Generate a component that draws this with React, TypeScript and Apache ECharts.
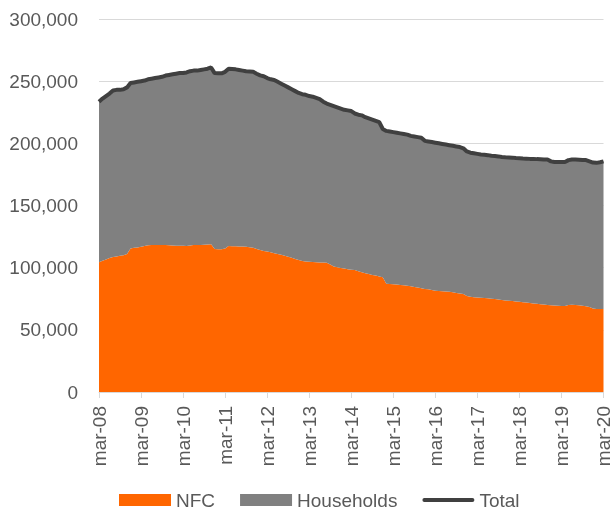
import React, { useEffect, useRef } from "react";
import * as echarts from "echarts";

// Monthly, mar-08 .. mar-20 (thousands)
const totalK: number[] = [
  233.5, 236, 238, 240, 242.5, 243, 243, 243.5, 245, 248.5, 249, 249.5, 250,
  250.5, 251.5, 252, 252.5, 253, 253.5, 254.5, 255, 255.5, 256, 256.5, 256.5,
  257, 258, 258.5, 258.5, 259, 259.5, 260, 261, 256.5, 256.3, 256.3, 257.5,
  260, 259.8, 259.5, 259, 258.5, 258, 257.8, 257.5, 256, 254.7, 254, 252.5,
  251.5, 251, 249.5, 248, 246.5, 245, 243.5, 242, 240.5, 239.5, 239, 238,
  237.5, 236.5, 235.5, 233.5, 232, 231, 230, 229, 228, 227, 226.5, 226,
  224, 223, 222.5, 221, 220, 219, 218, 217, 211.5, 210, 209.5, 209,
  208.5, 208, 207.5, 207, 206, 205.5, 205, 204.5, 202, 201.5, 201, 200.5,
  200, 199.5, 199, 198.5, 198, 197.5, 197, 196, 193.5, 192.5, 192, 191.5,
  191, 190.8, 190.5, 190, 189.8, 189.5, 189, 188.8, 188.7, 188.5, 188.2, 188,
  187.8, 187.7, 187.5, 187.5, 187.3, 187.2, 187, 187, 185.5, 185, 185, 185,
  185, 186.5, 187, 187, 186.8, 186.6, 186.5, 185.5, 184.5, 184.3, 184.8, 185.5,
];

const nfcK: number[] = [
  104.3, 105.5, 106.5, 107.8, 108.5, 109, 109.5, 110, 111, 115.5, 116, 116.3, 116.8,
  117.5, 118, 118.2, 118.2, 118.3, 118.2, 118.2, 118, 117.8, 117.7, 117.6, 117.6,
  117.5, 117.8, 118.2, 118.2, 118.3, 118.5, 118.6, 118.8, 115, 114.8, 114.9, 115.5,
  117.4, 117.3, 117.2, 117.1, 117, 116.9, 116.5, 116, 115, 114.3, 113.5, 113,
  112.3, 111.6, 111, 110.3, 109.5, 108.8, 108, 107, 106.2, 105.4, 105, 104.8,
  104.6, 104.4, 104.2, 104.1, 104, 102.5, 101, 100.3, 99.8, 99.3, 98.8, 98.4,
  98.1, 97.2, 96.4, 95.6, 94.9, 94.2, 93.6, 92.9, 92.2, 87, 86.9, 86.7,
  86.4, 86.1, 85.8, 85.5, 85, 84.5, 84, 83.4, 82.8, 82.6, 82, 81.5,
  81.2, 81, 80.8, 80.6, 80.2, 79.6, 79.2, 78.8, 77.2, 76.6, 76.3, 76,
  75.8, 75.6, 75.4, 75, 74.7, 74.3, 74, 73.6, 73.4, 73.1, 72.8, 72.5,
  72.2, 71.9, 71.6, 71.2, 70.9, 70.6, 70.3, 70, 69.7, 69.5, 69.3, 69.2,
  69.2, 70, 70.2, 70, 69.7, 69.3, 69, 68.3, 67.2, 66.7, 66.7, 66.8,
];

const monthNames = ["jan", "feb", "mar", "apr", "may", "jun", "jul", "aug", "sep", "oct", "nov", "dec"];
const categories: string[] = totalK.map((_, i) => {
  const m = (2 + i) % 12;
  const y = 8 + Math.floor((2 + i) / 12);
  return `${monthNames[m]}-${String(y).padStart(2, "0")}`;
});

const nfc = nfcK.map((v) => v * 1000);
const total = totalK.map((v) => v * 1000);
const households = total.map((v, i) => v - nfc[i]);

const FONT = "'Liberation Sans', Arial, sans-serif";
const TXT = "#595959";
const LINE_ICON = "path://M2,0 L50,0 A2,2 0 0 1 50,4 L2,4 A2,2 0 0 1 2,0 Z";

export default function App() {
  const ref = useRef<HTMLDivElement>(null);
  useEffect(() => {
    if (!ref.current) return;
    const chart = echarts.init(ref.current, undefined, { renderer: "svg" });
    chart.setOption({
      animation: false,
      textStyle: { fontFamily: FONT },
      grid: { left: 99, right: 8, top: 19, bottom: 117, containLabel: false },
      legend: {
        left: 119,
        top: 490,
        padding: 0,
        itemWidth: 52,
        itemHeight: 12,
        itemGap: 25,
        textStyle: { fontFamily: FONT, fontSize: 19, color: TXT, lineHeight: 20 },
        data: [
          { name: "NFC", icon: "rect" },
          { name: "Households", icon: "rect" },
          { name: "Total", icon: LINE_ICON },
        ],
      },
      xAxis: {
        type: "category",
        data: categories,
        boundaryGap: false,
        axisLine: { lineStyle: { color: "#d9d9d9", width: 1 } },
        axisTick: { interval: 11, length: 6, lineStyle: { color: "#d9d9d9" } },
        axisLabel: {
          interval: 11,
          rotate: 90,
          margin: 14,
          fontSize: 19,
          color: TXT,
          fontFamily: FONT,
        },
        splitLine: { show: false },
      },
      yAxis: {
        type: "value",
        min: 0,
        max: 300000,
        interval: 50000,
        axisLine: { show: false },
        axisTick: { show: false },
        axisLabel: {
          margin: 21,
          fontSize: 19,
          color: TXT,
          fontFamily: FONT,
          formatter: (v: number) => v.toLocaleString("en-US"),
        },
        splitLine: { lineStyle: { color: "#d9d9d9", width: 1 } },
      },
      series: [
        {
          name: "NFC",
          type: "line",
          stack: "a",
          data: nfc,
          symbol: "none",
          lineStyle: { width: 0 },
          itemStyle: { color: "#FF6600" },
          areaStyle: { color: "#FF6600", opacity: 1 },
        },
        {
          name: "Households",
          type: "line",
          stack: "a",
          data: households,
          symbol: "none",
          lineStyle: { width: 0 },
          itemStyle: { color: "#808080" },
          areaStyle: { color: "#808080", opacity: 1 },
        },
        {
          name: "Total",
          type: "line",
          data: total,
          symbol: "none",
          lineStyle: { width: 4, color: "#404040" },
          itemStyle: { color: "#404040" },
        },
      ],
    });
    return () => chart.dispose();
  }, []);
  return (
    <div
      ref={ref}
      style={{ position: "fixed", left: 0, top: 0, width: 613, height: 509 }}
    />
  );
}
